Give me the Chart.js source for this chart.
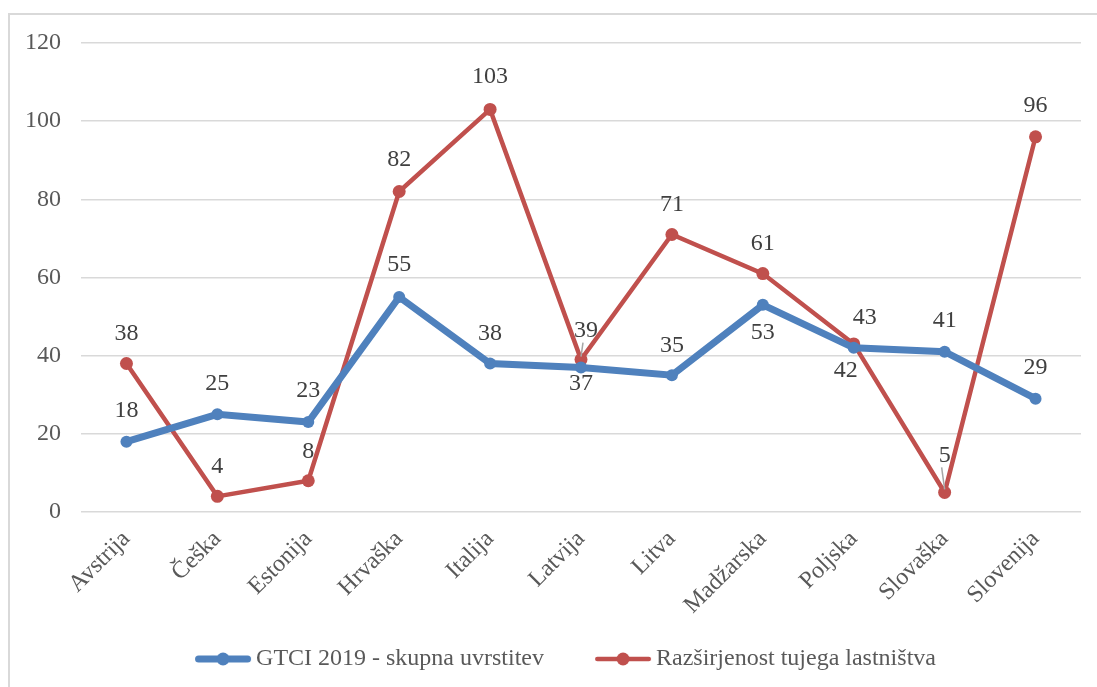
<!DOCTYPE html>
<html lang="sl">
<head>
<meta charset="UTF-8">
<title>GTCI 2019 in razširjenost tujega lastništva</title>
<script src="https://cdn.jsdelivr.net/npm/chart.js"></script>
<style>
    body { margin: 0; background: #fff; overflow: hidden; }
    .frame { position: absolute; left: 8px; top: 13px; width: 1200px; height: 800px; border: 2px solid #d9d9d9; }
    .chart-box { position: absolute; left: 0; top: 0; width: 1097px; height: 687px; }
</style>
</head>
<body>
<div class="frame"></div>
<div class="chart-box"><canvas id="chart"></canvas></div>

<script>
    const countries = ["Avstrija", "Češka", "Estonija", "Hrvaška", "Italija", "Latvija",
                       "Litva", "Madžarska", "Poljska", "Slovaška", "Slovenija"];
    const gtciRank = [18, 25, 23, 55, 38, 37, 35, 53, 42, 41, 29];
    const foreignOwnership = [38, 4, 8, 82, 103, 39, 71, 61, 43, 5, 96];

    // where the value labels sit relative to their point (px)
    const gtciLabelDx = [0, 0, 0, 0, 0, 0, 0, 0, -8, 0, 0];
    const gtciLabelDy = [-31, -31, -31, -32, -30, 16, -30, 28, 23, -31, -31];
    const foreignLabelDx = [0, 0, 0, 0, 0, 5, 0, 0, 11, 0, 0];
    const foreignLabelDy = [-30, -30, -29, -32, -33, -29, -30, -30, -26, -37, -31];

    const BLUE = "#4f81bd";
    const RED = "#c0504d";
    const TEXT = "#595959";
    const FONT = "'Liberation Serif', 'Times New Roman', serif";
    const FS = 24;

    function legendMarker(color, lw) {
        const c = document.createElement("canvas");
        c.width = 58; c.height = 16;
        const g = c.getContext("2d");
        g.strokeStyle = color;
        g.lineWidth = lw;
        g.lineCap = "round";
        g.beginPath();
        g.moveTo(lw / 2 + 1, 8);
        g.lineTo(58 - lw / 2 - 1, 8);
        g.stroke();
        g.fillStyle = color;
        g.beginPath();
        g.arc(29, 8, 6.5, 0, Math.PI * 2);
        g.fill();
        return c;
    }

    const valueLabels = {
        id: "valueLabels",
        afterDatasetsDraw(chart) {
            const ctx = chart.ctx;
            const offsets = [[gtciLabelDx, gtciLabelDy], [foreignLabelDx, foreignLabelDy]];
            ctx.save();
            ctx.font = FS + "px " + FONT;
            ctx.fillStyle = "#404040";
            ctx.textAlign = "center";
            ctx.textBaseline = "middle";
            chart.data.datasets.forEach((ds, i) => {
                const meta = chart.getDatasetMeta(i);
                meta.data.forEach((pt, j) => {
                    const x = pt.x + offsets[i][0][j];
                    const y = pt.y + offsets[i][1][j];
                    // leader line when the label is pushed away from its point
                    if (offsets[i][1][j] < -35 || (i === 1 && j === 5)) {
                        ctx.strokeStyle = "#a6a6a6";
                        ctx.lineWidth = 1.5;
                        ctx.beginPath();
                        ctx.moveTo(x - 3, y + 12);
                        ctx.lineTo(pt.x, pt.y - 3);
                        ctx.stroke();
                    }
                    ctx.fillText(String(ds.data[j]), x, y);
                });
            });
            ctx.restore();
        }
    };

    const ctx = document.getElementById("chart").getContext("2d");
    new Chart(ctx, {
        type: "line",
        data: {
            labels: countries,
            datasets: [
                {
                    label: "GTCI 2019 - skupna uvrstitev",
                    data: gtciRank,
                    borderColor: BLUE,
                    backgroundColor: BLUE,
                    borderWidth: 7,
                    pointRadius: 6,
                    pointBorderWidth: 0,
                    pointBackgroundColor: BLUE,
                    tension: 0
                },
                {
                    label: "Razširjenost tujega lastništva",
                    data: foreignOwnership,
                    borderColor: RED,
                    backgroundColor: RED,
                    borderWidth: 4.5,
                    pointRadius: 6.5,
                    pointBorderWidth: 0,
                    pointBackgroundColor: RED,
                    tension: 0
                }
            ]
        },
        options: {
            responsive: true,
            maintainAspectRatio: false,
            animation: false,
            layout: { padding: { left: 0, right: 16, top: 43, bottom: 6 } },
            plugins: {
                tooltip: { enabled: false },
                legend: {
                    position: "bottom",
                    fullSize: false,
                    labels: {
                        font: { family: FONT, size: FS },
                        color: TEXT,
                        padding: 10,
                        usePointStyle: true,
                        pointStyleWidth: 42,
                        generateLabels(chart) {
                            return chart.data.datasets.map((ds, i) => ({
                                text: ds.label + (i === 0 ? "\u2003\u2003" : "\u2003"),
                                fontColor: TEXT,
                                pointStyle: legendMarker(ds.borderColor, ds.borderWidth),
                                lineWidth: 0,
                                strokeStyle: "transparent",
                                fillStyle: ds.borderColor,
                                datasetIndex: i
                            }));
                        }
                    }
                }
            },
            scales: {
                x: {
                    offset: true,
                    grid: { display: false, drawTicks: false },
                    border: { display: false },
                    ticks: {
                        color: TEXT,
                        font: { family: FONT, size: FS },
                        minRotation: 45,
                        maxRotation: 45,
                        padding: 13,
                        autoSkip: false
                    },
                    afterFit(scale) { scale.height = 125; }
                },
                y: {
                    min: 0,
                    max: 120,
                    grid: { color: "#d9d9d9", lineWidth: 1.5, drawTicks: false },
                    border: { display: false },
                    ticks: {
                        stepSize: 20,
                        color: TEXT,
                        font: { family: FONT, size: FS },
                        padding: 20
                    },
                    afterFit(scale) { scale.width = 81; }
                }
            }
        },
        plugins: [valueLabels]
    });
</script>
</body>
</html>
